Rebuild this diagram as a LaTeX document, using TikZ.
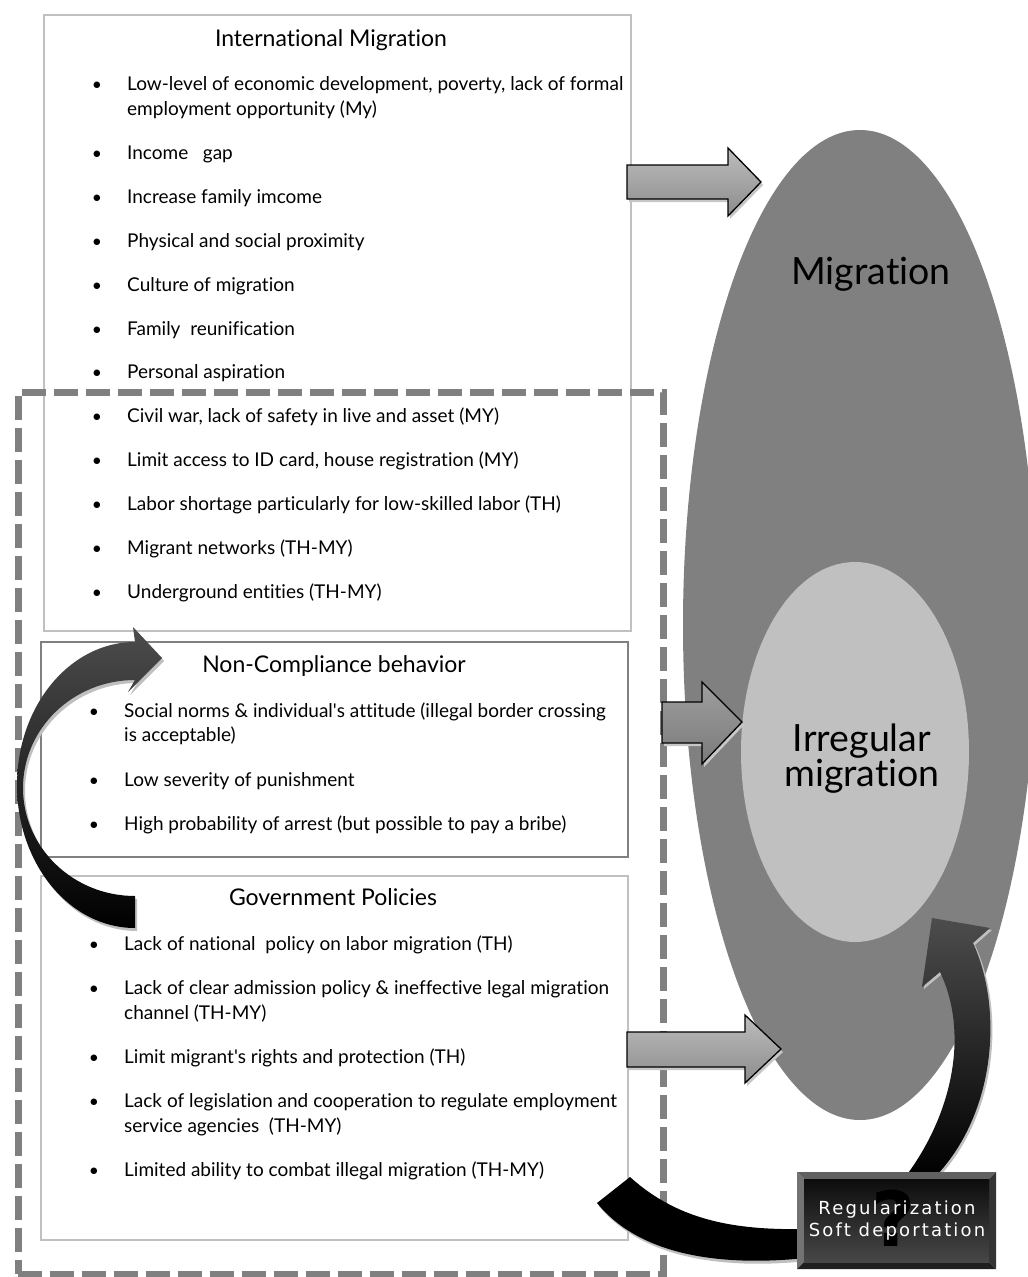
\documentclass[tikz,border=0pt]{standalone}
\usepackage{fontspec}
\setmainfont[Ligatures={NoCommon,NoRare,NoContextual}]{Lato}
\newfontfamily\regfont[LetterSpace=12]{DejaVu Sans}
\newfontfamily\qmfont{DejaVu Sans}
\usetikzlibrary{shapes.geometric}
\definecolor{lgray}{HTML}{C0C0C0}
\definecolor{mgray}{HTML}{808080}
\definecolor{igray}{HTML}{C0C0C0}
\definecolor{arrtop}{HTML}{BDBDBD}
\definecolor{arrbot}{HTML}{8C8C8C}
\begin{document}
\begin{tikzpicture}[x=1pt,y=-1pt,
  lbox/.style={draw=lgray,line width=2.5pt,inner sep=0pt,minimum width=587pt},
  dbox/.style={draw=mgray,line width=2.5pt,inner sep=0pt,minimum width=587pt},
  txt/.style={anchor=base west,inner sep=0pt,font=\fontsize{19}{22}\selectfont},
  bul/.style={anchor=base,inner sep=0pt,font=\fontsize{17.5}{21}\selectfont},
  ttl/.style={anchor=base,inner sep=0pt,font=\fontsize{23}{26}\selectfont},
  blockarrow/.style={draw=black,line width=1.3pt,line join=miter,top color=arrtop,bottom color=arrbot},
  arrshadow/.style={fill=black!22},
  curvefill/.style={top color=black!70,bottom color=black},
  bigell/.style={ellipse,inner sep=0pt,outer sep=0pt},
]
\fill[white] (0,0) rectangle (1028,1277);
\useasboundingbox (0,0) rectangle (1028,1277);

% ellipses
\node[bigell,fill=mgray,minimum width=354pt,minimum height=990pt] (mig) at (860,625) {};
\node[bigell,fill=igray,minimum width=228pt,minimum height=380pt] (irr) at (855,752) {};
\node[font=\fontsize{37.5}{37}\selectfont] (miglbl) at (871,274) {Migration};
\node[font=\fontsize{37.5}{35}\selectfont,align=center] (irrlbl) at (862,759) {Irregular\\migration};

% boxes
\node[lbox,minimum height=616pt] (intl) at (337.5,323) {};
\node[dbox,minimum height=215pt] (noncomp) at (334.5,749.5) {};
\node[lbox,minimum height=364pt] (gov) at (334.5,1058) {};
\node[draw=mgray,line width=7pt,dash pattern=on 24pt off 8pt,inner sep=0pt,minimum width=645pt,minimum height=882pt] (dashbox) at (340.5,833) {};

% box 1 text
\node[ttl] (t1) at (331,46) {International Migration};
\foreach \yy/\nm in {90/a,159/b,203/c,247/d,291/e,335/f,378/g,422/h,466/i,510/j,554/k,598/l}
  \node[bul] (b1\nm) at (97,\yy) {•};
\node[txt] (i1a) at (127,90) {Low-level of economic development, poverty, lack of formal};
\node[txt] (i1a2) at (127,115) {employment opportunity (My)};
\node[txt] (i1b) at (127,159) {Income\ \ \ gap};
\node[txt] (i1c) at (127,203) {Increase family imcome};
\node[txt] (i1d) at (127,247) {Physical and social proximity};
\node[txt] (i1e) at (127,291) {Culture of migration};
\node[txt] (i1f) at (127,335) {Family\ \ reunification};
\node[txt] (i1g) at (127,378) {Personal aspiration};
\node[txt] (i1h) at (127,422) {Civil war, lack of safety in live and asset (MY)};
\node[txt] (i1i) at (127,466) {Limit access to ID card, house registration (MY)};
\node[txt] (i1j) at (127,510) {Labor shortage particularly for low-skilled labor (TH)};
\node[txt] (i1k) at (127,554) {Migrant networks (TH-MY)};
\node[txt] (i1l) at (127,598) {Underground entities (TH-MY)};

% box 2 text
\node[ttl] (t2) at (334,672) {Non-Compliance behavior};
\foreach \yy/\nm in {717/a,786/b,830/c}
  \node[bul] (b2\nm) at (94,\yy) {•};
\node[txt] (i2a) at (124,717) {Social norms \& individual\textquotesingle s attitude (illegal border crossing};
\node[txt] (i2a2) at (124,741) {is acceptable)};
\node[txt] (i2b) at (124,786) {Low severity of punishment};
\node[txt] (i2c) at (124,830) {High probability of arrest (but possible to pay a bribe)};

% box 3 text
\node[ttl] (t3) at (333,905) {Government Policies};
\foreach \yy/\nm in {950/a,994/b,1063/c,1107/d,1176/e}
  \node[bul] (b3\nm) at (94,\yy) {•};
\node[txt] (i3a) at (124,950) {Lack of national\ \ policy on labor migration (TH)};
\node[txt] (i3b) at (124,994) {Lack of clear admission policy \& ineffective legal migration};
\node[txt] (i3b2) at (124,1019) {channel (TH-MY)};
\node[txt] (i3c) at (124,1063) {Limit migrant\textquotesingle s rights and protection (TH)};
\node[txt] (i3d) at (124,1107) {Lack of legislation and cooperation to regulate employment};
\node[txt] (i3d2) at (124,1132) {service agencies\ \ (TH-MY)};
\node[txt] (i3e) at (124,1176) {Limited ability to combat illegal migration (TH-MY)};

% block arrows
\fill[arrshadow,shift={(2,3)}] (627,165) -- (728,165) -- (728,148) -- (761,182) -- (728,216) -- (728,199) -- (627,199) -- cycle;
\path[blockarrow] (627,165) -- (728,165) -- (728,148) -- (761,182) -- (728,216) -- (728,199) -- (627,199) -- cycle;
\fill[arrshadow,shift={(2,3)}] (662,702) -- (702,702) -- (702,682) -- (742,722) -- (702,764) -- (702,743) -- (662,743) -- cycle;
\path[blockarrow,top color=black!38,bottom color=black!52] (662,702) -- (702,702) -- (702,682) -- (742,722) -- (702,764) -- (702,743) -- (662,743) -- cycle;
\fill[arrshadow,shift={(2,3)}] (627,1032) -- (745,1032) -- (745,1015) -- (781,1049) -- (745,1083) -- (745,1067) -- (627,1067) -- cycle;
\path[blockarrow] (627,1032) -- (745,1032) -- (745,1015) -- (781,1049) -- (745,1083) -- (745,1067) -- (627,1067) -- cycle;

% left curved arrow
\fill[black!25,shift={(2,3)}] (135,928) arc[start angle=90,end angle=270,x radius=118,y radius=143] -- (133,627) -- (162,658) -- (128,692) -- (135,680) arc[start angle=270,end angle=90,x radius=112,y radius=108] -- cycle;
\path[curvefill] (135,928) arc[start angle=90,end angle=270,x radius=118,y radius=143] -- (133,627) -- (162,658) -- (128,692) -- (135,680) arc[start angle=270,end angle=90,x radius=112,y radius=108] -- cycle;

% bottom band
\fill[black!25,shift={(2,3)}] (630,1177) .. controls (680,1222) and (740,1233) .. (830,1228) -- (830,1255) .. controls (740,1268) and (645,1262) .. (597,1203) -- cycle;
\fill[black] (630,1177) .. controls (680,1222) and (740,1233) .. (830,1228) -- (830,1255) .. controls (740,1268) and (645,1262) .. (597,1203) -- cycle;

% right curved arrow
\fill[black!25,shift={(2,2)}] (906,1176) .. controls (955,1110) and (968,1030) .. (940,972) -- (922,987) -- (932,918) -- (990,928) -- (973,943) .. controls (1002,1005) and (998,1110) .. (936,1176) -- cycle;
\path[curvefill] (906,1176) .. controls (955,1110) and (968,1030) .. (940,972) -- (922,987) -- (932,918) -- (990,928) -- (973,943) .. controls (1002,1005) and (998,1110) .. (936,1176) -- cycle;

% regularization box
\node[inner sep=0pt,minimum width=199pt,minimum height=97pt] (reg) at (896.5,1220.5) {};
\fill[black!62] (797,1172) -- (996,1172) -- (989,1179) -- (804,1179) -- cycle;
\fill[black!55] (797,1172) -- (804,1179) -- (804,1262) -- (797,1269) -- cycle;
\fill[black!80] (996,1172) -- (996,1269) -- (989,1262) -- (989,1179) -- cycle;
\fill[black!88] (797,1269) -- (996,1269) -- (989,1262) -- (804,1262) -- cycle;
\path[top color=black!95,bottom color=black!72] (804,1179) rectangle (989,1262);
\node[font=\qmfont\bfseries\fontsize{76}{76}\selectfont,text=black,anchor=base] (qm) at (894,1246) {?};
\node[font=\regfont\fontsize{18}{22}\selectfont,text=white,align=center] (regtxt) at (897,1221) {Regularization\\Soft deportation};
\end{tikzpicture}
\end{document}
